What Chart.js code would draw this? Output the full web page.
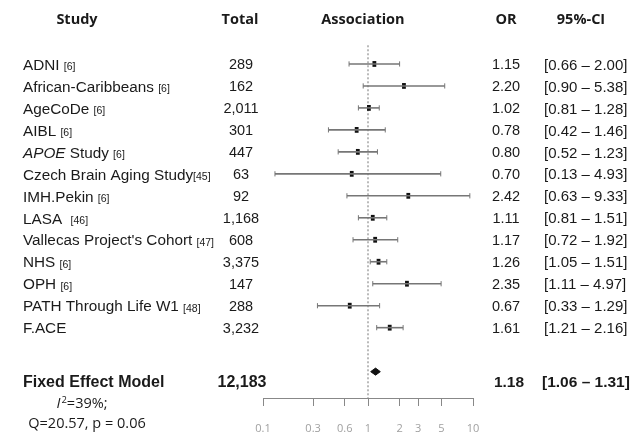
<!DOCTYPE html>
<html>
<head>
<meta charset="utf-8">
<script src="https://cdn.jsdelivr.net/npm/chart.js@4"></script>
<style>
  body { margin: 0; background: #fff; }
  #wrap { width: 635px; height: 433px; position: relative; }
</style>
</head>
<body>
<div id="wrap"><canvas id="forest"></canvas></div>
<script>
// data
var studies = ['ADNI ', 'African-Caribbeans ', 'AgeCoDe ', 'AIBL ', 'APOE Study ', 'Czech Brain Aging Study',
  'IMH.Pekin ', 'LASA  ', "Vallecas Project's Cohort ", 'NHS ', 'OPH ', 'PATH Through Life W1 ', 'F.ACE'];
var refs = ['[6]', '[6]', '[6]', '[6]', '[6]', '[45]', '[6]', '[46]', '[47]', '[6]', '[6]', '[48]', ''];
var totals = ['289', '162', '2,011', '301', '447', '63', '92', '1,168', '608', '3,375', '147', '288', '3,232'];
var oddsRatio = [1.15, 2.20, 1.02, 0.78, 0.80, 0.70, 2.42, 1.11, 1.17, 1.26, 2.35, 0.67, 1.61];
var ciLower = [0.66, 0.90, 0.81, 0.42, 0.52, 0.13, 0.63, 0.81, 0.72, 1.05, 1.11, 0.33, 1.21];
var ciUpper = [2.00, 5.38, 1.28, 1.46, 1.23, 4.93, 9.33, 1.51, 1.92, 1.51, 4.97, 1.29, 2.16];

var pooledOR = 1.18;
var pooledLower = 1.06;
var pooledUpper = 1.31;
var pooledTotal = '12,183';

var tickValues = [0.1, 0.3, 0.6, 1, 2, 3, 5, 10];

var headerRow = -1;
var pooledRow = studies.length + 2;

var datasets = [];

// CI lines with end caps
for (var i = 0; i < studies.length; i++) {
  datasets.push({
    type: 'line',
    data: [{x: ciLower[i], y: i + 1}, {x: ciUpper[i], y: i + 1}],
    borderColor: '#767676',
    borderWidth: 1.6,
    pointStyle: 'line',
    rotation: 90,
    pointRadius: 2.6,
    pointBorderWidth: 1,
    pointBorderColor: '#767676'
  });
}

// point estimates
var pts = [];
for (var j = 0; j < studies.length; j++) {
  pts.push({x: oddsRatio[j], y: j + 1});
}
datasets.push({
  type: 'scatter',
  data: pts,
  pointStyle: 'line',
  rotation: 90,
  pointRadius: 2.9,
  pointBorderWidth: 3.8,
  pointBorderColor: '#111'
});

// line of no effect
datasets.push({
  type: 'line',
  data: [{x: 1, y: 0.15}, {x: 1, y: 16.2}],
  borderColor: '#777',
  borderWidth: 1,
  borderDash: [2, 2],
  pointRadius: 0
});

// pooled diamond
datasets.push({
  type: 'line',
  data: [
    {x: pooledLower, y: pooledRow},
    {x: pooledOR, y: pooledRow - 0.16},
    {x: pooledUpper, y: pooledRow},
    {x: pooledOR, y: pooledRow + 0.16},
    {x: pooledLower, y: pooledRow}
  ],
  borderColor: '#111',
  borderWidth: 1,
  backgroundColor: '#111',
  fill: 'shape',
  pointRadius: 0,
  tension: 0
});

var textPlugin = {
  id: 'forestText',
  afterDraw: function(chart) {
    var ctx = chart.ctx;
    var ys = chart.scales.y;
    ctx.save();
    ctx.fillStyle = '#1a1a1a';
    ctx.textBaseline = 'middle';

    // headers
    var hy = ys.getPixelForValue(headerRow);
    ctx.font = 'bold 14.5px "Open Sans"';
    ctx.textAlign = 'center';
    ctx.fillText('Study', 77, hy);
    ctx.fillText('Total', 240, hy);
    ctx.fillText('Association', 363, hy);
    ctx.fillText('OR', 506, hy);
    ctx.fillText('95%-CI', 581, hy);

    // study rows
    for (var i = 0; i < studies.length; i++) {
      var y = ys.getPixelForValue(i + 1) + 1.5;
      var x = 23;
      var name = studies[i];
      ctx.textAlign = 'left';
      if (name.indexOf('APOE') === 0) {
        ctx.font = 'italic 15.3px "Liberation Sans"';
        ctx.fillText('APOE', x, y);
        x += ctx.measureText('APOE').width;
        name = name.substring(4);
      }
      ctx.font = '15.3px "Liberation Sans"';
      ctx.fillText(name, x, y);
      x += ctx.measureText(name).width;
      if (refs[i]) {
        ctx.font = '10.5px "Liberation Sans"';
        ctx.fillText(refs[i], x, y + 2);
      }
      ctx.font = '14.5px "Liberation Sans"';
      ctx.textAlign = 'center';
      ctx.fillText(totals[i], 241, y);
      ctx.fillText(oddsRatio[i].toFixed(2), 506, y);
      ctx.textAlign = 'left';
      ctx.font = '15px "Liberation Sans"';
      ctx.fillText('[' + ciLower[i].toFixed(2) + ' \u2013 ' + ciUpper[i].toFixed(2) + ']', 544, y);
    }

    // pooled row
    var py = 383;
    ctx.font = 'bold 16px "Liberation Sans"';
    ctx.textAlign = 'left';
    ctx.fillText('Fixed Effect Model', 23, py);
    ctx.textAlign = 'center';
    ctx.fillText(pooledTotal, 242, py);
    ctx.font = 'bold 15.5px "Liberation Sans"';
    ctx.fillText(pooledOR.toFixed(2), 509, py);
    ctx.textAlign = 'left';
    ctx.fillText('[' + pooledLower.toFixed(2) + ' \u2013 ' + pooledUpper.toFixed(2) + ']', 542, py);

    // heterogeneity
    var iy = 404;
    ctx.font = 'italic 14.5px "Open Sans"';
    var wI = ctx.measureText('I').width + 1;
    ctx.font = '9.5px "Open Sans"';
    var w2 = ctx.measureText('2').width;
    ctx.font = '14.5px "Open Sans"';
    var wRest = ctx.measureText('=39%;').width;
    var ix = 82 - (wI + w2 + wRest) / 2;
    ctx.textAlign = 'left';
    ctx.font = 'italic 14.5px "Open Sans"';
    ctx.fillText('I', ix, iy);
    ix += wI;
    ctx.font = '9.5px "Open Sans"';
    ctx.fillText('2', ix, iy - 4);
    ix += w2;
    ctx.font = '14.5px "Open Sans"';
    ctx.fillText('=39%;', ix, iy);
    ctx.textAlign = 'center';
    ctx.fillText('Q=20.57, p = 0.06', 87, 424);
    ctx.restore();
  }
};

new Chart(document.getElementById('forest'), {
  type: 'scatter',
  data: { datasets: datasets },
  plugins: [textPlugin],
  options: {
    responsive: true,
    maintainAspectRatio: false,
    animation: false,
    layout: { padding: { left: 263, right: 162, top: 20, bottom: 0 } },
    plugins: { legend: { display: false }, tooltip: { enabled: false } },
    scales: {
      x: {
        type: 'logarithmic',
        min: 0.1,
        max: 10,
        afterBuildTicks: function(scale) {
          scale.ticks = tickValues.map(function(v) { return {value: v}; });
        },
        afterFit: function(scale) { scale.height = 35; },
        grid: { drawOnChartArea: false, drawTicks: true, tickLength: 8, color: '#888', lineWidth: 1 },
        border: { display: true, color: '#888', width: 1 },
        ticks: {
          autoSkip: false,
          maxRotation: 0,
          padding: 16,
          color: '#a0a0a0',
          font: { family: 'Open Sans', size: 11 },
          callback: function(v) { return String(v); }
        }
      },
      y: {
        type: 'linear',
        reverse: true,
        min: -1,
        max: 16.2,
        display: false
      }
    }
  }
});
</script>
</body>
</html>
